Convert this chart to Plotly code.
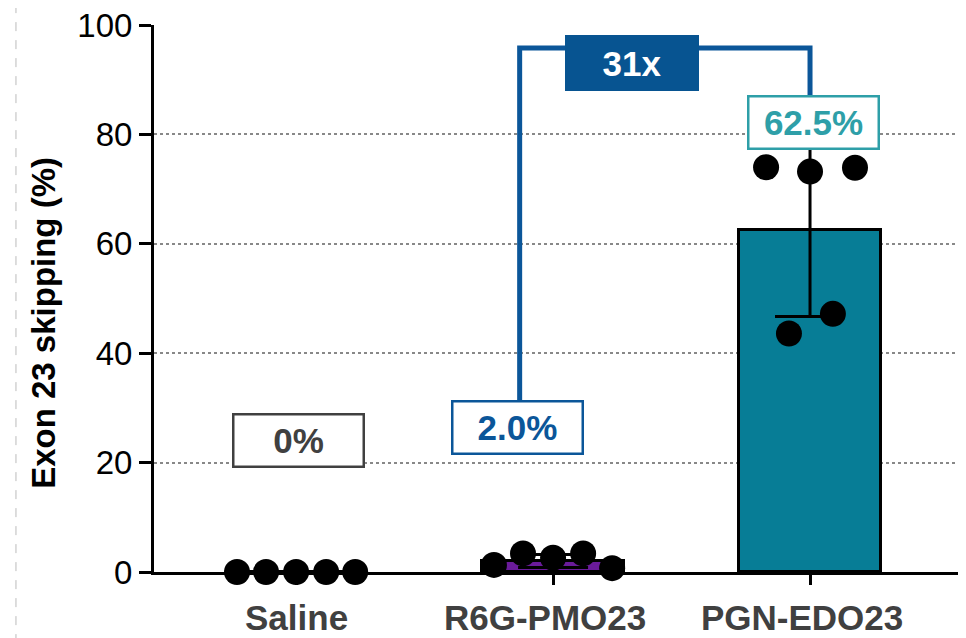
import plotly.graph_objects as go

# ---- data ----
categories = ["Saline", "R6G-PMO23", "PGN-EDO23"]
saline_vals = [0, 0, 0, 0, 0]
r6g_vals = [1.3, 3.4, 2.6, 3.4, 0.7]
pgn_vals = [74.0, 73.2, 73.9, 47.2, 43.6]
jitter_saline = [-0.23, -0.117, 0.0, 0.117, 0.23]
jitter_r6g = [-0.23, -0.117, 0.0, 0.117, 0.23]
jitter_pgn = [-0.171, 0.0, 0.175, 0.089, -0.082]
means = [0.0, 2.0, 62.5]
sds = [0.0, 1.2, 15.8]
box_labels = ["0%", "2.0%", "62.5%"]
fold_label = "31x"
yticks = [0, 20, 40, 60, 80, 100]

FONT = "Liberation Sans, Arial, sans-serif"
bar_colors = ["#FFFFFF", "#6A1B9A", "#077D96"]

fig = go.Figure()
fig.add_trace(go.Bar(
    x=[0, 1, 2], y=means, width=0.55,
    marker=dict(color=bar_colors, line=dict(color="black", width=3)),
    error_y=dict(type="data", array=sds, visible=True, color="black",
                 thickness=3, width=35),
    showlegend=False, hoverinfo="skip",
))

dx, dy = [], []
for g, (vals, jit) in enumerate([(saline_vals, jitter_saline), (r6g_vals, jitter_r6g), (pgn_vals, jitter_pgn)]):
    for v, j in zip(vals, jit):
        dx.append(g + j)
        dy.append(v)
fig.add_trace(go.Scatter(
    x=dx, y=dy, mode="markers",
    marker=dict(color="black", size=26),
    cliponaxis=False, showlegend=False, hoverinfo="skip",
))

# bracket
blue = "#0B5699"
fig.add_shape(type="path", xref="x", yref="y",
              path="M 0.87 31.4 L 0.87 95.8 L 2.0 95.8 L 2.0 87",
              line=dict(color=blue, width=5))

# left dashed border line (slide edge)
fig.add_shape(type="line", xref="paper", yref="paper",
              x0=-0.17, x1=-0.17, y0=-0.13, y1=1.05,
              line=dict(color="#BBBBBB", width=1, dash="dash"))

annos = []
box_styles = [
    dict(x=0.008, y=24.1, color="#404040"),
    dict(x=0.86, y=26.5, color=blue),
    dict(x=2.012, y=82.1, color="#2E9FA8"),
]
for lab, st in zip(box_labels, box_styles):
    annos.append(dict(
        x=st["x"], y=st["y"], xref="x", yref="y", text="<b>%s</b>" % lab,
        showarrow=False, font=dict(family=FONT, size=35, color=st["color"]),
        bgcolor="white", bordercolor=st["color"], borderwidth=2.5,
        borderpad=2, width=124, height=46,
    ))
annos.append(dict(
    x=1.307, y=93.1, xref="x", yref="y", text="<b>%s</b>" % fold_label,
    showarrow=False, font=dict(family=FONT, size=35, color="white"),
    bgcolor="#075491", bordercolor="#075491", borderwidth=1,
    borderpad=2, width=128, height=50,
))
label_x = [0.0, 0.97, 1.97]
for lab, lx in zip(categories, label_x):
    annos.append(dict(
        x=lx, y=-0.083, xref="x", yref="paper", text="<b>%s</b>" % lab,
        showarrow=False, yanchor="middle", xanchor="center",
        font=dict(family=FONT, size=35, color="#404040"),
    ))
annos.append(dict(
    x=-0.137, y=0.455, xref="paper", yref="paper",
    text="<b>Exon 23 skipping (%)</b>", textangle=-90, showarrow=False,
    xanchor="center", yanchor="middle",
    font=dict(family=FONT, size=33, color="black"),
))

fig.update_layout(
    width=958, height=630,
    margin=dict(l=146, r=0, t=17, b=66),
    plot_bgcolor="white", paper_bgcolor="white",
    annotations=annos,
    bargap=0,
)
fig.update_xaxes(
    range=[-0.553, 2.607], tickvals=[0, 1, 2], showticklabels=False,
    ticks="outside", ticklen=10, tickwidth=3, tickcolor="black",
    showline=True, linecolor="black", linewidth=3, showgrid=False,
    zeroline=False,
)
fig.update_yaxes(
    range=[0, 100], tickvals=yticks, ticks="outside", ticklen=12,
    tickwidth=3, tickcolor="black", showline=True, linecolor="black",
    linewidth=3, showgrid=True, gridcolor="#888888", griddash="dot",
    gridwidth=1.5, zeroline=False, ticklabeloverflow="allow",
    tickfont=dict(family=FONT, size=33, color="black"),
)

fig.write_html("out.html")
